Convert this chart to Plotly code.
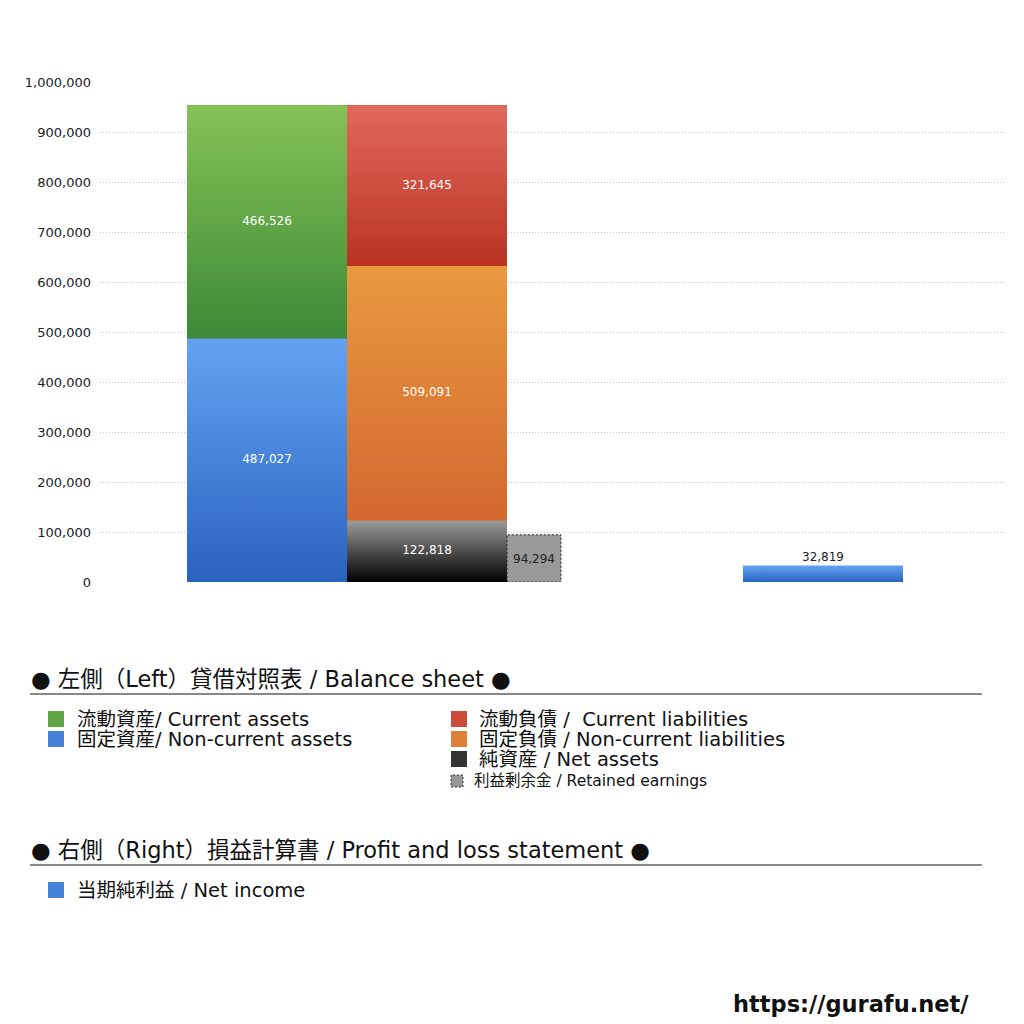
import plotly.graph_objects as go

# ---- data ----
asset_labels = ["固定資産/ Non-current assets", "流動資産/ Current assets"]
asset_values = [487027, 466526]
liab_labels = ["純資産 / Net assets", "固定負債 / Non-current liabilities", "流動負債 /  Current liabilities"]
liab_values = [122818, 509091, 321645]
retained_label = "利益剰余金 / Retained earnings"
retained_value = [94294]
pl_label = "当期純利益 / Net income"
pl_value = [32819]
y_ticks = [0, 100000, 200000, 300000, 400000, 500000, 600000, 700000, 800000, 900000, 1000000]

# ---- styles ----
FONT = "DejaVu Sans, Noto Sans CJK JP"
asset_grad = [("#2a62be", "#63a3f2"), ("#3c8a36", "#86c256")]
liab_grad = [("#000000", "#9a9a9a"), ("#d2682f", "#e9993f"), ("#b93320", "#e2695e")]
net_grad = ("#2a62be", "#63a3f2")
asset_mid = ["#4682d8", "#5fa545"]
liab_mid = ["#555555", "#de8037", "#cc4a3a"]

# x positions (axis units = px offset from plot left)
X_ASSET, X_LIAB, X_RET, X_PL = 167, 327, 434, 723
W_MAIN, W_RET = 160, 54

fig = go.Figure()


def grad_rect(xc, w, base, val, cols, name, line=None, solid=None):
    x0, x1 = xc - w / 2, xc + w / 2
    kw = dict(
        x=[x0, x0, x1, x1, x0], y=[base, base + val, base + val, base, base],
        mode="lines", fill="toself", hoverinfo="skip", showlegend=False, name=name,
    )
    if solid:
        kw["fillcolor"] = solid
    else:
        kw["fillgradient"] = dict(type="vertical", colorscale=[[0, cols[0]], [1, cols[1]]])
    kw["line"] = line if line else dict(width=0)
    fig.add_trace(go.Scatter(**kw))


def label(xc, y, txt, color, size=12):
    fig.add_trace(go.Scatter(x=[xc], y=[y], mode="text", text=[txt],
                             textfont=dict(color=color, size=size, family=FONT),
                             hoverinfo="skip", showlegend=False))


# underlying bar marks
base = 0
for lab, v, c in zip(asset_labels, asset_values, asset_mid):
    fig.add_trace(go.Bar(x=[X_ASSET], y=[v], base=[base], width=W_MAIN, marker=dict(color=c, line=dict(width=0)),
                         name=lab, showlegend=False))
    base += v
base = 0
for lab, v, c in zip(liab_labels, liab_values, liab_mid):
    fig.add_trace(go.Bar(x=[X_LIAB], y=[v], base=[base], width=W_MAIN, marker=dict(color=c, line=dict(width=0)),
                         name=lab, showlegend=False))
    base += v
fig.add_trace(go.Bar(x=[X_RET], y=retained_value, width=W_RET, marker=dict(color="#999999", line=dict(width=0)),
                     name=retained_label, showlegend=False))
fig.add_trace(go.Bar(x=[X_PL], y=pl_value, width=W_MAIN, marker=dict(color="#4682d8", line=dict(width=0)),
                     name=pl_label, showlegend=False))

# gradient overlays
base = 0
for lab, v, g in zip(asset_labels, asset_values, asset_grad):
    grad_rect(X_ASSET, W_MAIN, base, v, g, lab)
    base += v
base = 0
for lab, v, g in zip(liab_labels, liab_values, liab_grad):
    grad_rect(X_LIAB, W_MAIN, base, v, g, lab)
    base += v
grad_rect(X_RET, W_RET, 0, retained_value[0], None, retained_label,
          line=dict(color="#222222", width=1, dash="2px,2px"), solid="#999999")
grad_rect(X_PL, W_MAIN, 0, pl_value[0], net_grad, pl_label)

# value labels
base = 0
for v in asset_values:
    label(X_ASSET, base + v / 2, f"{v:,}", "white")
    base += v
base = 0
for v in liab_values:
    label(X_LIAB, base + v / 2, f"{v:,}", "white")
    base += v
label(X_RET, retained_value[0] / 2 - 4000, f"{retained_value[0]:,}", "#222222")
label(X_PL, pl_value[0] + 16000, f"{pl_value[0]:,}", "#222222")

# ---- legend (paper coords from picture pixels) ----
def px(x):
    return (x - 100) / 905


def py(y):
    return (582 - y) / 500


ann = []
shapes = []


def text(x, y, t, size, bold=False):
    ann.append(dict(x=px(x), y=py(y), xref="paper", yref="paper", text=f"<b>{t}</b>" if bold else t,
                    showarrow=False, xanchor="left", yanchor="middle",
                    font=dict(size=size, color="#111111", family=FONT)))


def square(x, y, color, s=16, dashed=False):
    shapes.append(dict(type="rect", xref="paper", yref="paper",
                       x0=px(x), x1=px(x + s), y0=py(y + s / 2), y1=py(y - s / 2),
                       fillcolor=color,
                       line=dict(color="#333333", width=1, dash="2px,2px") if dashed else dict(width=0)))


def hline(y):
    shapes.append(dict(type="line", xref="paper", yref="paper", x0=px(30), x1=px(982),
                       y0=py(y), y1=py(y), line=dict(color="#111111", width=1)))


text(29, 679, "● 左側（Left）貸借対照表 / Balance sheet ●", 22.5)
hline(694)
square(48, 719, asset_mid[1]); text(75, 719, asset_labels[1], 19.5)
square(48, 739, asset_mid[0]); text(75, 739, asset_labels[0], 19.5)
square(451, 719, liab_mid[2]); text(477, 719, liab_labels[2], 19.5)
square(451, 739, liab_mid[1]); text(477, 739, liab_labels[1], 19.5)
square(451, 759, "#333333"); text(477, 759, liab_labels[0], 19.5)
square(451, 781, "#999999", s=12, dashed=True); text(472, 781, retained_label, 15.5)

text(29, 850, "● 右側（Right）損益計算書 / Profit and loss statement ●", 22.5)
hline(865)
square(48, 890, asset_mid[0]); text(75, 890, pl_label, 19.5)

text(731, 1004, "https://gurafu.net/", 22.5, bold=True)

fig.update_layout(
    width=1024, height=1024,
    margin=dict(l=92, r=27, t=74, b=450),
    paper_bgcolor="white", plot_bgcolor="white",
    barmode="overlay", bargap=0,
    showlegend=False,
    annotations=ann, shapes=shapes,
    font=dict(family=FONT),
    xaxis=dict(range=[0, 905], showticklabels=False, showgrid=False, zeroline=False, fixedrange=True),
    yaxis=dict(range=[0, 1000000], tickvals=y_ticks, tickformat=",d",
               showgrid=True, gridcolor="#c4c4c4", griddash="1px,2px", gridwidth=1,
               zeroline=False, ticks="", ticklen=0, ticklabelstandoff=8,
               tickfont=dict(size=13, color="#222222", family=FONT)),
)

fig.write_html("out.html")
